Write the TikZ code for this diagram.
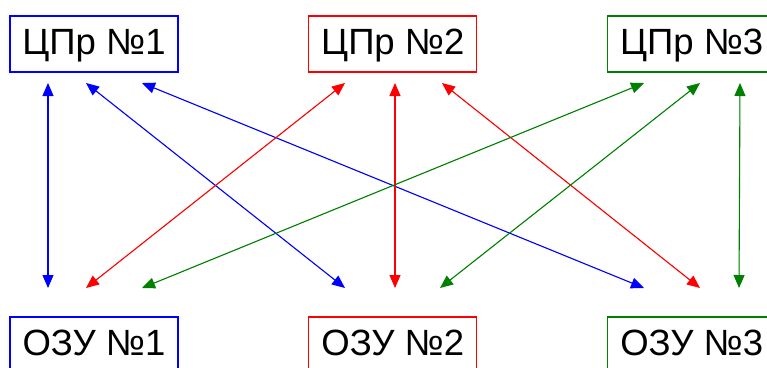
\documentclass[tikz,border=0pt]{standalone}
\usepackage{fontspec}
\setmainfont{Liberation Sans}
\usetikzlibrary{arrows.meta}
\definecolor{ugreen}{RGB}{0,128,0}
\tikzset{
  unit/.style={draw=#1, line width=1.3pt, minimum width=168pt, minimum height=56pt,
    inner sep=0pt, text height=26pt, text depth=6pt, font=\fontsize{36.5}{40}\selectfont},
  link/.style={draw=#1, line width=1.1pt, {Triangle[length=13pt,width=11pt]}-{Triangle[length=13pt,width=11pt]}, fill=#1}
}
\begin{document}
\begin{tikzpicture}[x=1pt, y=-1pt]
\useasboundingbox (0,0) rectangle (767,367);
% processors
\node[unit=blue]   (p1) at (94,44)    {ЦПр №1};
\node[unit=red]    (p2) at (392.8,44) {ЦПр №2};
\node[unit=ugreen] (p3) at (691.7,44) {ЦПр №3};
% memory modules
\node[unit=blue]   (m1) at (94,345)    {ОЗУ №1};
\node[unit=red]    (m2) at (392.8,345) {ОЗУ №2};
\node[unit=ugreen] (m3) at (691.7,345) {ОЗУ №3};
% link end points below the processors
\coordinate (p1a) at (48,83);  \coordinate (p1b) at (86,83);  \coordinate (p1c) at (142,83);
\coordinate (p2a) at (345,83); \coordinate (p2b) at (395,83); \coordinate (p2c) at (442,83);
\coordinate (p3a) at (644,83); \coordinate (p3b) at (700,83); \coordinate (p3c) at (740,83);
% link end points above the memory modules
\coordinate (m1a) at (48,288);  \coordinate (m1b) at (86,288);  \coordinate (m1c) at (142,288);
\coordinate (m2a) at (345,288); \coordinate (m2b) at (395,288); \coordinate (m2c) at (440,288);
\coordinate (m3a) at (644,288); \coordinate (m3b) at (700,288); \coordinate (m3c) at (739,288);
% processor 1 links
\path[link=blue] (p1a) -- (m1a);
\path[link=blue] (p1b) -- (m2a);
\path[link=blue] (p1c) -- (m3a);
% processor 2 links
\path[link=red] (p2a) -- (m1b);
\path[link=red] (p2b) -- (m2b);
\path[link=red] (p2c) -- (m3b);
% processor 3 links
\path[link=ugreen] (p3a) -- (m1c);
\path[link=ugreen] (p3b) -- (m2c);
\path[link=ugreen] (p3c) -- (m3c);
\end{tikzpicture}
\end{document}
